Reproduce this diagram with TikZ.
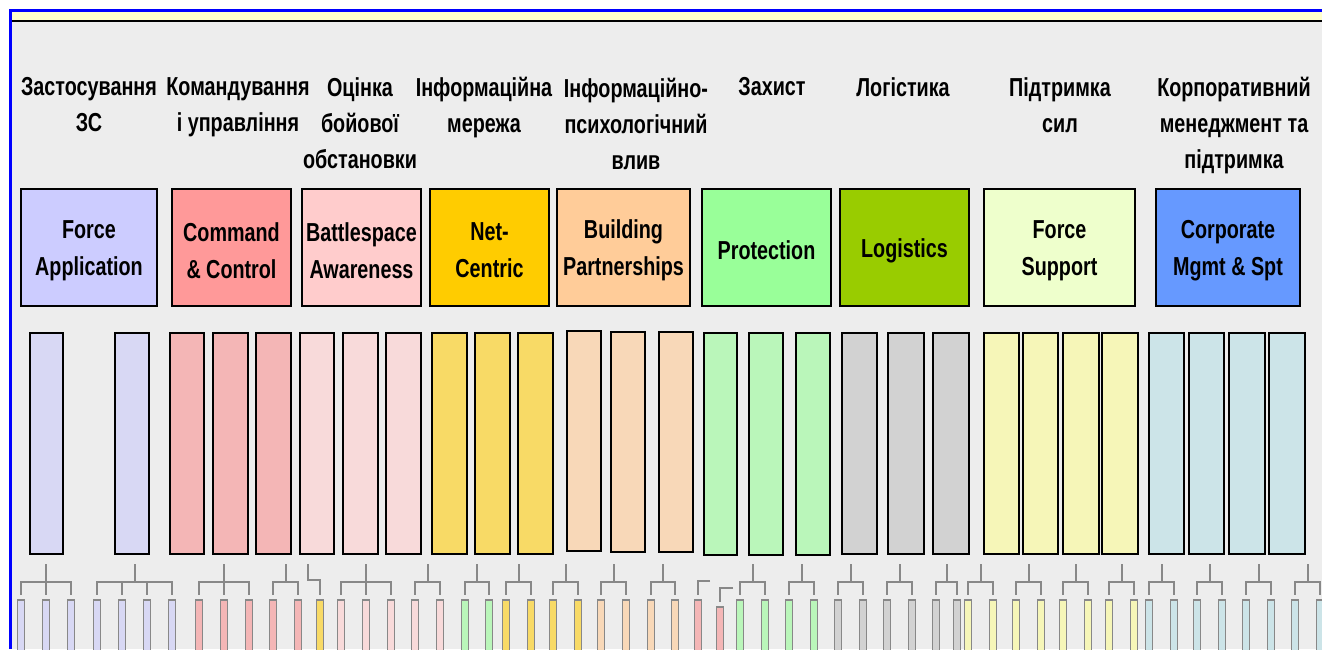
\documentclass[tikz,border=0pt]{standalone}
\usepackage{fontspec}
\usepackage{tikz}
\usetikzlibrary{fit,trees}
\newfontfamily\narrowsans{Liberation Sans}[FakeStretch=0.76]
\definecolor{frameC}{HTML}{0000FF}
\definecolor{stripC}{HTML}{FFFFCC}
\definecolor{backC}{HTML}{EDEDED}
\definecolor{lineC}{HTML}{888888}
\definecolor{faB}{HTML}{CCCCFF}
\definecolor{c2B}{HTML}{FF9999}
\definecolor{baB}{HTML}{FFCCCC}
\definecolor{ncB}{HTML}{FFCC00}
\definecolor{bpB}{HTML}{FFCC99}
\definecolor{prB}{HTML}{99FF99}
\definecolor{lgB}{HTML}{99CC00}
\definecolor{fsB}{HTML}{EEFFCC}
\definecolor{cmB}{HTML}{6699FF}
\definecolor{faS}{HTML}{D8D8F4}
\definecolor{c2S}{HTML}{F4B6B6}
\definecolor{baS}{HTML}{F8DADA}
\definecolor{ncS}{HTML}{F8DA66}
\definecolor{bpS}{HTML}{F8D8B8}
\definecolor{prS}{HTML}{BAF6BA}
\definecolor{lgS}{HTML}{D2D2D2}
\definecolor{fsS}{HTML}{F6F6B8}
\definecolor{cmS}{HTML}{CCE4E8}

\begin{document}
\begin{tikzpicture}[x=1pt, y=-1pt, level distance=35pt, sibling distance=25pt,
  head/.style={font=\narrowsans\bfseries\fontsize{26}{36}\selectfont, align=center, anchor=north, inner sep=0pt},
  cbox/.style={draw, line width=1.5pt, inner sep=0pt, minimum height=117pt, align=center, font=\narrowsans\bfseries\fontsize{26}{37}\selectfont},
  tbar/.style={draw, line width=1.5pt, inner sep=0pt},
  sbar/.style={draw=lineC, line width=1.5pt, minimum width=7pt, minimum height=60pt, inner sep=0pt, anchor=north},
  conn/.style={draw=lineC, line width=2pt, shorten >=4pt},
  edge from parent/.style={conn}, edge from parent fork down]
  \useasboundingbox (0,0) rectangle (1322,649);
  \clip (0,0) rectangle (1322,649);
  \fill[backC] (11,21) rectangle (1322,649);
  \fill[stripC] (11,11) rectangle (1322,21);
  \draw[line width=2pt] (11,21) -- (1322,21);
  \draw[frameC, line width=3pt] (10.5,649) -- (10.5,10.5) -- (1322,10.5);

  \node[head] (hFA) at (89,77) {Застосування\\ЗС};
  \node[head] (hC2) at (238,77) {Командування\\і управління};
  \node[head] (hBA) at (360,77) {Оцінка\\бойової\\обстановки};
  \node[head] (hNC) at (484,77) {Інформаційна\\мережа};
  \node[head] (hBP) at (636,78) {Інформаційно-\\психологічний\\влив};
  \node[head] (hPR) at (772,77) {Захист};
  \node[head] (hLG) at (903,77) {Логістика};
  \node[head] (hFS) at (1060,77) {Підтримка\\сил};
  \node[head] (hCM) at (1234,77) {Корпоративний\\менеджмент та\\підтримка};

  \node[cbox, fill=faB, minimum width=136pt] (fa) at (89,247.5) {};
  \node[cbox, fill=c2B, minimum width=119pt] (c2) at (231.5,247.5) {};
  \node[cbox, fill=baB, minimum width=119pt] (ba) at (361.5,247.5) {};
  \node[cbox, fill=ncB, minimum width=119pt] (nc) at (489.5,247.5) {};
  \node[cbox, fill=bpB, minimum width=133pt] (bp) at (623.5,247.5) {};
  \node[cbox, fill=prB, minimum width=129pt] (pr) at (766.5,247.5) {};
  \node[cbox, fill=lgB, minimum width=129pt] (lg) at (904.5,247.5) {};
  \node[cbox, fill=fsB, minimum width=151pt] (fs) at (1059.5,247.5) {};
  \node[cbox, fill=cmB, minimum width=144pt] (cm) at (1228,247.5) {};
  \foreach \b/\t in {fa/{Force\\Application}, c2/{Command\\\& Control}, ba/{Battlespace\\Awareness},
      nc/{Net-\\Centric}, bp/{Building\\Partnerships}, pr/{Protection}, lg/{Logistics},
      fs/{Force\\Support}, cm/{Corporate\\Mgmt \& Spt}}
    \node[cbox, draw=none, minimum height=0pt, yshift=-3pt] at (\b) {\t};

  \foreach \l/\r/\t/\b/\c [count=\i] in {30/63/333/554/faS, 115/149/333/554/faS,
      170/204/333/554/c2S, 213/248/333/554/c2S, 256/291/333/554/c2S,
      300/334/333/554/baS, 343/378/333/554/baS, 386/421/333/554/baS,
      432/467/333/554/ncS, 475/510/333/554/ncS, 518/553/333/554/ncS,
      567/601/331/551/bpS, 611/645/332/552/bpS, 659/693/332/552/bpS,
      704/737/333/555/prS, 749/783/333/555/prS, 796/830/333/555/prS,
      842/877/333/554/lgS, 888/924/333/554/lgS, 933/969/333/554/lgS,
      984/1019/333/554/fsS, 1023/1058/333/554/fsS, 1063/1099/333/554/fsS, 1102/1138/333/554/fsS,
      1149/1184/333/554/cmS, 1189/1224/333/554/cmS, 1229/1265/333/554/cmS, 1269/1305/333/554/cmS}
    \node[tbar, fill=\c, fit={(\l,\t) (\r,\b)}] (tb\i) {};

  \foreach \n/\x/\k/\c/\d in {gA/46/3/faS/25pt, gB/134.5/4/faS/25pt,
      gC/224/3/c2S/25pt, gD/285.5/2/c2S/25pt, gF/366/3/baS/25pt, gG/427.5/2/baS/25pt,
      gH/477/2/prS/24pt, gI/518.5/2/ncS/25pt, gJ/565.5/2/ncS/25pt,
      gK/613.5/2/bpS/25pt, gL/663/2/bpS/24pt, gO/752.5/2/prS/25pt, gP/801.5/2/prS/25pt,
      gQ/850.5/2/lgS/25pt, gR/899.5/2/lgS/25pt, gS/946.5/2/lgS/21pt,
      gT/980.5/2/fsS/25pt, gU/1028.5/2/fsS/25pt, gV/1075.5/2/fsS/25pt, gW/1121.5/2/fsS/25pt,
      gX/1161.5/2/cmS/25pt, gY/1209.5/2/cmS/25pt, gZ/1258.5/2/cmS/25pt, gAA/1307.5/2/cmS/25pt}
    \path[sibling distance=\d] node[coordinate] (\n) at (\x,564) {}
      child foreach \i in {1,...,\k} {node[sbar, fill=\c] (\n-\i) {}};

  \node[sbar, fill=ncS] (gE-1) at (320,599) {};
  \coordinate (gE) at (308,564);
  \draw[conn] (gE) -- ++(0,16) -| (gE-1);
  \node[sbar, fill=c2S] (gM-1) at (698,599) {};
  \coordinate (gM) at (710,581);
  \draw[conn] (gM) -| (gM-1);
  \node[sbar, fill=c2S] (gN-1) at (720,606) {};
  \coordinate (gN) at (733,588);
  \draw[conn] (gN) -| (gN-1);
\end{tikzpicture}
\end{document}
